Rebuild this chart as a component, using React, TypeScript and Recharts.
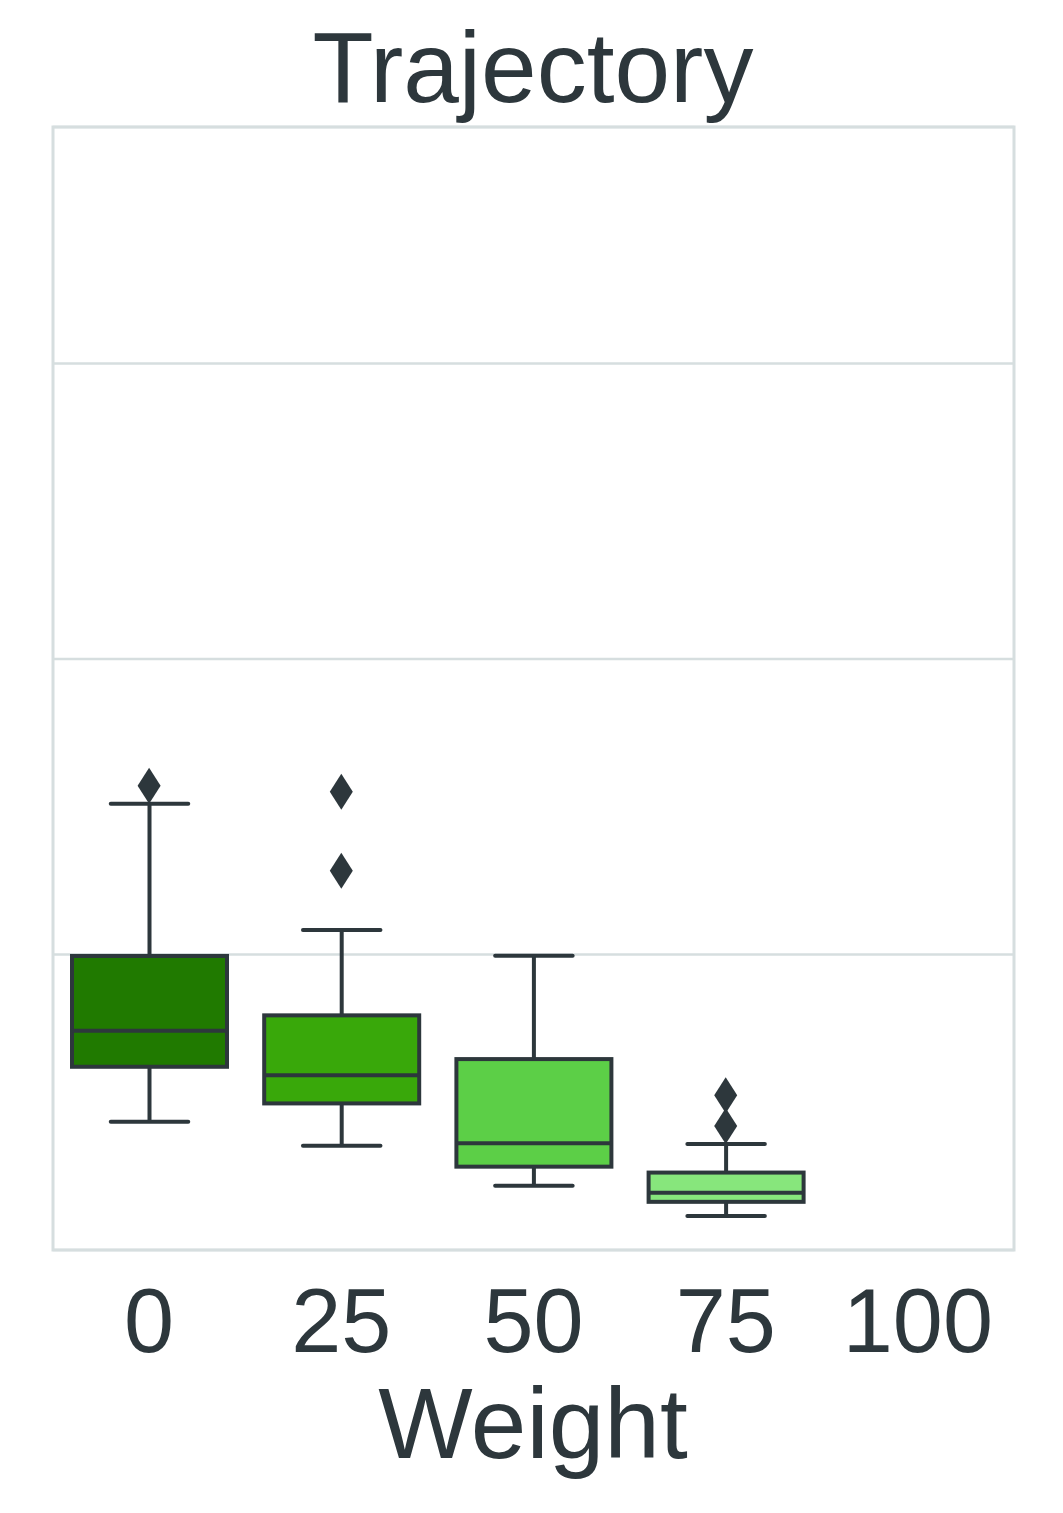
import React from 'react';
import { ComposedChart, Bar, Scatter, XAxis, YAxis, CartesianGrid, ReferenceArea } from 'recharts';

const weights = ['0', '25', '50', '75', '100'];
const lowWhisker = [0.434, 0.353, 0.217, 0.115, null];
const q1 = [0.62, 0.496, 0.282, 0.163, null];
const median = [0.742, 0.591, 0.361, 0.194, null];
const q3 = [0.995, 0.794, 0.646, 0.262, null];
const highWhisker = [1.51, 1.083, 0.996, 0.359, null];
const boxColors = ['#207a00', '#39a80a', '#5ccf47', '#87e67c', '#b0f0a8'];

const outlierWeights = ['0', '25', '25', '75', '75'];
const outlierValues = [1.571, 1.551, 1.283, 0.524, 0.42];

const yTicks = [0, 1, 2, 3];

const INK = '#2d373c';
const GRID = '#d6dedf';
const FONT = '"Liberation Sans", Arial, Helvetica, sans-serif';

const data = weights.map((w, i) => ({
  weight: w,
  box: q1[i] == null ? null : [q1[i], q3[i]],
  lo: lowWhisker[i],
  med: median[i],
  hi: highWhisker[i],
  q1: q1[i],
  q3: q3[i],
  color: boxColors[i],
}));

const outliers = outlierWeights.map((w, i) => ({ weight: w, value: outlierValues[i] }));

function BoxShape(props: any) {
  const { x, y, width, height, payload } = props;
  if (payload == null || payload.box == null || !height) return null;
  // pixels per unit from the bar's own scaled extent (q1..q3)
  const k = height / (payload.q3 - payload.q1);
  const py = (v: number) => y + (payload.q3 - v) * k;
  const cx = x + width / 2;
  const cap = width / 4;
  const sw = 4;
  return (
    <g>
      <line x1={cx} x2={cx} y1={py(payload.hi)} y2={y} stroke={INK} strokeWidth={sw} />
      <line x1={cx} x2={cx} y1={y + height} y2={py(payload.lo)} stroke={INK} strokeWidth={sw} />
      <line x1={cx - cap} x2={cx + cap} y1={py(payload.hi)} y2={py(payload.hi)} stroke={INK} strokeWidth={sw} strokeLinecap="round" />
      <line x1={cx - cap} x2={cx + cap} y1={py(payload.lo)} y2={py(payload.lo)} stroke={INK} strokeWidth={sw} strokeLinecap="round" />
      <rect x={x} y={y} width={width} height={height} fill={payload.color} stroke={INK} strokeWidth={sw} />
      <line x1={x} x2={x + width} y1={py(payload.med)} y2={py(payload.med)} stroke={INK} strokeWidth={sw} />
    </g>
  );
}

function Diamond(props: any) {
  const { cx, cy } = props;
  if (cx == null || cy == null) return null;
  const hw = 11.5;
  const hh = 18;
  return <polygon points={`${cx},${cy - hh} ${cx + hw},${cy} ${cx},${cy + hh} ${cx - hw},${cy}`} fill={INK} />;
}

function WeightTick(props: any) {
  const { x, y, payload } = props;
  return (
    <text x={x} y={y + 102} textAnchor="middle" fill={INK} fontSize={90} fontFamily={FONT}>
      {payload.value}
    </text>
  );
}

export default function App() {
  return (
    <div style={{ position: 'absolute', left: 0, top: 0, width: 1063, height: 1513, background: '#fff' }}>
      <ComposedChart
        width={1063}
        height={1513}
        data={data}
        margin={{ top: 127, right: 49, bottom: 0, left: 53 }}
      >
        <CartesianGrid vertical={false} stroke={GRID} strokeWidth={2.5} />
        <XAxis
          dataKey="weight"
          type="category"
          allowDuplicatedCategory={false}
          axisLine={false}
          tickLine={false}
          tickSize={0}
          tickMargin={0}
          height={263}
          tick={<WeightTick />}
          interval={0}
        />
        <YAxis hide type="number" domain={[0, 3.8]} ticks={yTicks} allowDataOverflow />
        <ReferenceArea y1={0} y2={3.8} fill="none" stroke={GRID} strokeWidth={3} ifOverflow="visible" />
        <Bar dataKey="box" barSize={155} shape={<BoxShape />} isAnimationActive={false} />
        <Scatter data={outliers} dataKey="value" shape={<Diamond />} isAnimationActive={false} />
      </ComposedChart>
      <svg
        width={1063}
        height={1513}
        style={{ position: 'absolute', left: 0, top: 0, pointerEvents: 'none' }}
      >
        <text x={533} y={102} textAnchor="middle" fill={INK} fontSize={100} fontFamily={FONT}>
          Trajectory
        </text>
        <text x={533} y={1458} textAnchor="middle" fill={INK} fontSize={100} fontFamily={FONT}>
          Weight
        </text>
      </svg>
    </div>
  );
}
